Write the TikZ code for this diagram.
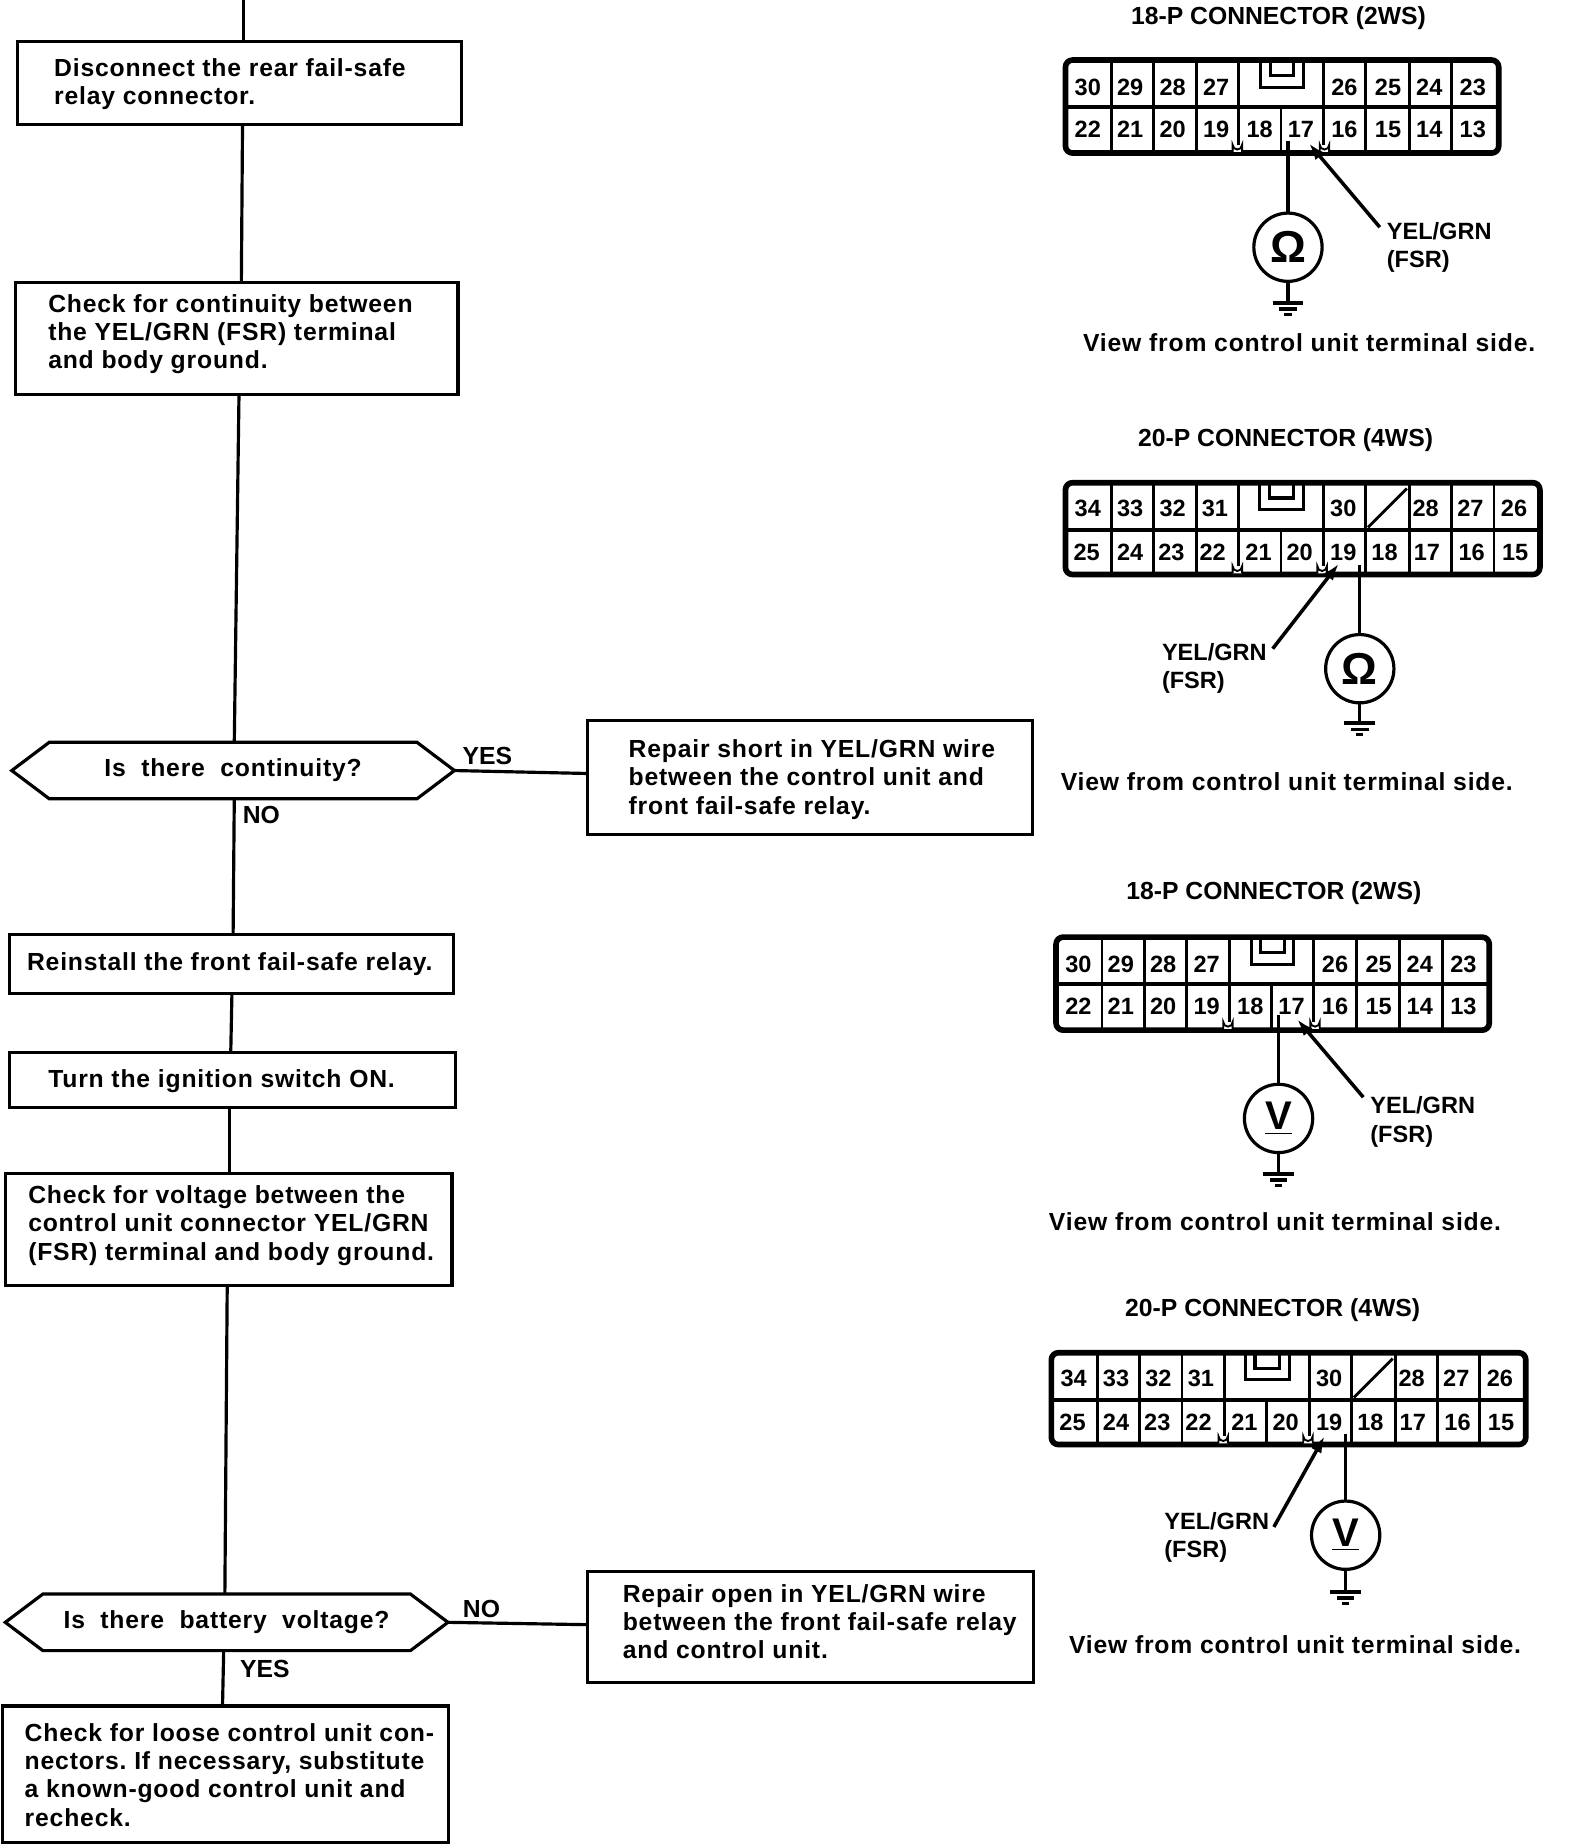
\documentclass[tikz,border=0pt]{standalone}
\usepackage{fontspec}
\setmainfont{Liberation Sans}[BoldFont={Liberation Sans Bold}]
\newfontfamily\bodyfam{Liberation Sans Bold}[LetterSpace=3.3]
\usetikzlibrary{shapes.symbols,arrows.meta}
\newcommand\bodyfont{\fontsize{10.5}{12}\bodyfam\selectfont\frenchspacing}
\tikzset{
  x=.5pt,y=-.5pt,
  every node/.style={font=\fontsize{10}{12}\selectfont\bfseries,inner sep=0pt,outer sep=0pt},
  flowbox/.style={draw,line width=1.35pt,rectangle,font=\bodyfont},
  decision/.style={draw,line width=1.35pt,signal,signal to=west and east,signal pointer angle=74,minimum width=188pt,minimum height=24pt,font=\bodyfont},
  flow/.style={line width=1.35pt},
  wall/.style={line width=2.4pt,rounded corners=3pt,line join=round},
  rowline/.style={line width=1.6pt},
  celldiv/.style={line width=1.2pt},
  keyshape/.style={line width=1.3pt},
  meter/.style={draw,circle,line width=1.35pt,minimum size=29pt},
  probe/.style={line width=1.4pt},
  leader/.style={line width=1.5pt,-{Latex[length=7pt,width=5pt]}},
  titletext/.style={font=\fontsize{10.5}{12}\selectfont\bfseries},
  wiretext/.style={align=left,anchor=west},
  viewtext/.style={font=\bodyfont},
  flowlabel/.style={font=\fontsize{10.5}{12}\selectfont\bfseries},
}
% #1 name, #2-#5 box corners, #6 left inset, #7 vertical offset of the text (units, + = down), #8 text
\newcommand\flowbx[8]{%
  \pgfmathsetmacro\bw{(#4-#2)*.5}\pgfmathsetmacro\bh{(#5-#3)*.5}
  \pgfmathsetmacro\bt{(#4-#2-#6)*.5}\pgfmathsetmacro\bs{#6*.5}
  \pgfmathsetmacro\br{-2.5-(#7)*.5}
  \node[flowbox,minimum width=\bw pt,minimum height=\bh pt] (#1) at ({(#2+#4)/2},{(#3+#5)/2})
    {\raisebox{\br pt}[0pt][0pt]{\makebox[\bw pt][l]{\hspace*{\bs pt}\parbox[c]{\bt pt}{\raggedright #8}}}};}
\newcommand\notch[2]{%
  \fill[white] (#1-4,#2+1) rectangle (#1+4,#2-5);
  \filldraw[fill=white,draw=black,line width=.8pt] (#1-4,#2+1) -- (#1-4,#2-5) arc (180:0:4) -- (#1+4,#2+1);}
% 18-P housing
\newcommand\housingA[3]{%
 \begin{scope}[shift={(#2,#3)}]
  \draw[rowline] (1,41) -- (369,41);
  \foreach \d in {40,76,112,148,220,256,293,329} \draw[celldiv] (\d,1) -- (\d,41);
  \foreach \d in {40,76,112,148,184,220,256,293,329} \draw[celldiv] (\d,41) -- (\d,80);
  \draw[keyshape] (167,2) -- (167,24) -- (203,24) -- (203,2);
  \draw[keyshape] (175,2) -- (175,14) -- (195,14) -- (195,2);
  \foreach \n/\x in {30/20,29/56,28/92,27/129,26/238,25/275,24/310,23/347} \node (#1-\n) at (\x,24) {\n};
  \foreach \n/\x in {22/20,21/56,20/92,19/129,18/166,17/201,16/238,15/275,14/310,13/347} \node (#1-\n) at (\x,60) {\n};
  \draw[wall] (1,1) rectangle (369,80);
  \notch{147}{78}\notch{221}{78}
 \end{scope}}
% 20-P housing
\newcommand\housingB[3]{%
 \begin{scope}[shift={(#2,#3)}]
  \draw[rowline] (1,41) -- (404,41);
  \foreach \d in {40,76,112,148,220,256,293,329,365} \draw[celldiv] (\d,1) -- (\d,41);
  \foreach \d in {40,76,112,148,184,220,256,293,329,365} \draw[celldiv] (\d,41) -- (\d,79);
  \draw[celldiv] (258,39) -- (291,6);
  \draw[keyshape] (166,2) -- (166,24) -- (203,24) -- (203,2);
  \draw[keyshape] (174,2) -- (174,14) -- (195,14) -- (195,2);
  \foreach \n/\x in {34/20,33/56,32/92,31/128,30/237,28/307,27/345,26/382} \node (#1-\n) at (\x,23) {\n};
  \foreach \n/\x in {25/19,24/56,23/91,22/126,21/165,20/200,19/237,18/272,17/308,16/346,15/383} \node (#1-\n) at (\x,60) {\n};
  \draw[wall] (1,1) rectangle (404,79);
  \notch{147}{77}\notch{219}{77}
 \end{scope}}
\newcommand\gnd[3]{%
  \coordinate (#1) at (#2,#3);
  \draw[line width=1.7pt] ([xshift=-6.5pt]#1) -- ([xshift=6.5pt]#1);
  \draw[line width=1.4pt] ([xshift=-3.7pt,yshift=-2.7pt]#1) -- ([xshift=3.7pt,yshift=-2.7pt]#1);
  \draw[line width=1.2pt] ([xshift=-1.5pt,yshift=-5pt]#1) -- ([xshift=1.5pt,yshift=-5pt]#1);}
\newcommand\ohm{{\fontsize{19}{19}\selectfont\bfseries Ω}}
\newcommand\volt{{\fontsize{17}{17}\selectfont\bfseries\underline{V}}}
\begin{document}
\begin{tikzpicture}
\useasboundingbox (0,0) rectangle (1345,1568);
\fill[white] (0,0) rectangle (1345,1568);
% ---------- flow chart
\coordinate (top) at (207,0);
\flowbx{b1}{15}{35}{392}{106}{31}{1.5}{\mbox{Disconnect the rear fail-safe}\\\mbox{relay connector.}}
\flowbx{b2}{13}{240}{389}{335}{28}{-3}{\mbox{Check for continuity between}\\\mbox{the YEL/GRN (FSR) terminal}\\\mbox{and body ground.}}
\node[decision] (d1) at (198,654.5) {Is\ \ there\ \ continuity?};
\flowbx{ra}{499}{612}{877}{709}{35}{2}{\mbox{Repair short in YEL/GRN wire}\\\mbox{between the control unit and}\\\mbox{front fail-safe relay.}}
\flowbx{b3}{8}{794}{385}{844}{15}{0}{\mbox{Reinstall the front fail-safe relay.}}
\flowbx{b4}{8}{894}{387}{941}{33}{1}{\mbox{Turn the ignition switch ON.}}
\flowbx{b5}{5}{997}{384}{1092}{19}{-3}{\mbox{Check for voltage between the}\\\mbox{control unit connector YEL/GRN}\\\mbox{(FSR) terminal and body ground.}}
\node[decision] (d2) at (192.5,1378) {Is\ \ there\ \ battery\ \ voltage?};
\flowbx{rb}{499}{1335}{878}{1429}{30}{-4}{\mbox{Repair open in YEL/GRN wire}\\\mbox{between the front fail-safe relay}\\\mbox{and control unit.}}
\flowbx{b6}{2}{1449}{381}{1565}{19}{1}{\mbox{Check for loose control unit con-}\\\mbox{nectors. If necessary, substitute}\\\mbox{a known-good control unit and}\\\mbox{recheck.}}
\draw[flow] (top) -- (top |- b1.north);
\draw[flow] ([xshift=1.25pt]b1.south) -- ([xshift=2pt]b2.north);
\draw[flow] ([xshift=1pt]b2.south) -- ([xshift=.5pt]d1.north);
\draw[flow] ([xshift=.5pt]d1.south) -- ([xshift=.75pt]b3.north);
\draw[flow] ([xshift=.25pt]b3.south) -- ([xshift=-.75pt]b4.north);
\draw[flow] ([xshift=-1.25pt]b4.south) -- ([xshift=.25pt]b5.north);
\draw[flow] ([xshift=-.75pt]b5.south) -- ([xshift=-.75pt]d2.north);
\draw[flow] ([xshift=-1.25pt]d2.south) -- ([xshift=-1.25pt]b6.north);
\draw[flow] (d1.east) -- ([yshift=1.75pt]ra.west);
\draw[flow] (d2.east) -- ([yshift=1pt]rb.west);
\node[flowlabel] (ly1) at (414,642) {YES};
\node[flowlabel] (ln1) at (222,692) {NO};
\node[flowlabel] (ln2) at (409,1367) {NO};
\node[flowlabel] (ly2) at (225,1418) {YES};
% ---------- connector A
\node[titletext] (tA) at (1086,15) {18-P CONNECTOR (2WS)};
\housingA{ca}{904}{50}
\node[meter] (mA) at (1094,210) {\ohm};
\coordinate (pA) at (1094,120);
\draw[probe] (pA) -- (mA);
\gnd{gA}{1094}{257}
\draw[probe] (mA) -- (gA);
\coordinate (sA) at (1172,193); \coordinate (eA) at (1112,122);
\draw[leader] (sA) -- (eA);
\node[wiretext] (wA) at (1178,210) {YEL/GRN\\(FSR)};
\node[viewtext] (vA) at (1112,291) {View from control unit terminal side.};
% ---------- connector B
\node[titletext] (tB) at (1092,374) {20-P CONNECTOR (4WS)};
\housingB{cb}{904}{409}
\node[meter] (mB) at (1155,568) {\ohm};
\coordinate (pB) at (1155,480);
\draw[probe] (pB) -- (mB);
\gnd{gB}{1155}{614}
\draw[probe] (mB) -- (gB);
\coordinate (sB) at (1081,551); \coordinate (eB) at (1137,479);
\draw[leader] (sB) -- (eB);
\node[wiretext] (wB) at (987,568) {YEL/GRN\\(FSR)};
\node[viewtext] (vB) at (1093,664) {View from control unit terminal side.};
% ---------- connector C
\node[titletext] (tC) at (1082,759) {18-P CONNECTOR (2WS)};
\housingA{cc}{896}{795}
\node[meter] (mC) at (1086,950) {\volt};
\coordinate (pC) at (1086,862);
\draw[probe] (pC) -- (mC);
\gnd{gC}{1086}{997}
\draw[probe] (mC) -- (gC);
\coordinate (sC) at (1158,932); \coordinate (eC) at (1102,866);
\draw[leader] (sC) -- (eC);
\node[wiretext] (wC) at (1164,953) {YEL/GRN\\(FSR)};
\node[viewtext] (vC) at (1083,1038) {View from control unit terminal side.};
% ---------- connector D
\node[titletext] (tD) at (1081,1113) {20-P CONNECTOR (4WS)};
\housingB{cd}{892}{1148}
\node[meter] (mD) at (1143,1304) {\volt};
\coordinate (pD) at (1143,1218);
\draw[probe] (pD) -- (mD);
\gnd{gD}{1143}{1352}
\draw[probe] (mD) -- (gD);
\coordinate (sD) at (1082,1297); \coordinate (eD) at (1125,1220);
\draw[leader] (sD) -- (eD);
\node[wiretext] (wD) at (989,1306) {YEL/GRN\\(FSR)};
\node[viewtext] (vD) at (1100,1397) {View from control unit terminal side.};
\end{tikzpicture}
\end{document}
